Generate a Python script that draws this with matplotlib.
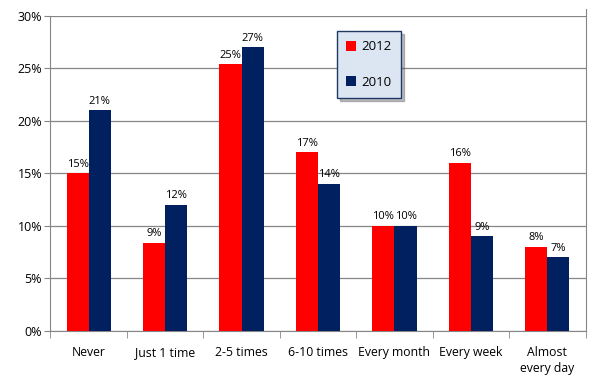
import matplotlib.pyplot as plt
import numpy as np

categories = ["Never", "Just 1 time", "2-5 times", "6-10 times", "Every month", "Every week", "Almost\nevery day"]
vals_2012 = [15, 8.4, 25.4, 17, 10, 16, 8]
vals_2010 = [21, 12, 27, 14, 10, 9, 7]
labels_2012 = ["15%", "9%", "25%", "17%", "10%", "16%", "8%"]
labels_2010 = ["21%", "12%", "27%", "14%", "10%", "9%", "7%"]

plt.rcParams['font.family'] = ['Open Sans', 'DejaVu Sans']

fig = plt.figure(figsize=(6.03, 3.8), dpi=100)
ax = fig.add_axes([0.0837, 0.129, 0.8873, 0.829])

x = np.arange(len(categories))
w = 0.29
b1 = ax.bar(x - w / 2, vals_2012, w, color='#FF0000', label='2012', zorder=3)
b2 = ax.bar(x + w / 2, vals_2010, w, color='#002060', label='2010', zorder=3)

for bars, vals, labs in ((b1, vals_2012, labels_2012), (b2, vals_2010, labels_2010)):
    for r, v, l in zip(bars, vals, labs):
        ax.text(r.get_x() + r.get_width() / 2, v + 0.35, l,
                ha='center', va='bottom', fontsize=8, zorder=4)

ax.set_xlim(-0.5, len(categories) - 0.5)
ax.set_ylim(0, 30)
ax.set_yticks(np.arange(0, 31, 5))
ax.set_yticklabels([f"{t}%" for t in range(0, 31, 5)], fontsize=9)
ax.yaxis.grid(True, color='#868686', linewidth=0.9, zorder=0)

ax.set_xticks(x)
ax.set_xticklabels(categories, fontsize=8.8, linespacing=1.25)
ax.tick_params(axis='x', length=0, pad=11)
ax.set_xticks(np.arange(-0.5, len(categories)), minor=True)
ax.tick_params(axis='x', which='minor', length=5, color='#868686')
ax.tick_params(axis='y', length=4, color='#868686', pad=2)

for s in ('left', 'bottom', 'right'):
    ax.spines[s].set_color('#868686')
ax.spines['top'].set_visible(False)
ax.plot([1, 1], [1, 1.022], transform=ax.transAxes, color='#868686',
        linewidth=0.8, clip_on=False)

leg = ax.legend(loc='upper left', bbox_to_anchor=(0.536, 0.952), fontsize=9.5,
                handlelength=0.75, handleheight=0.75, labelspacing=1.7,
                borderpad=0.7, handletextpad=0.4, borderaxespad=0,
                fancybox=False, shadow={'ox': 2, 'oy': -2, 'alpha': 0.35},
                framealpha=1)
leg.get_frame().set_facecolor('#DCE6F2')
leg.get_frame().set_edgecolor('#1F3864')
leg.get_frame().set_linewidth(1.0)

fig.savefig('out.png', dpi=100)
